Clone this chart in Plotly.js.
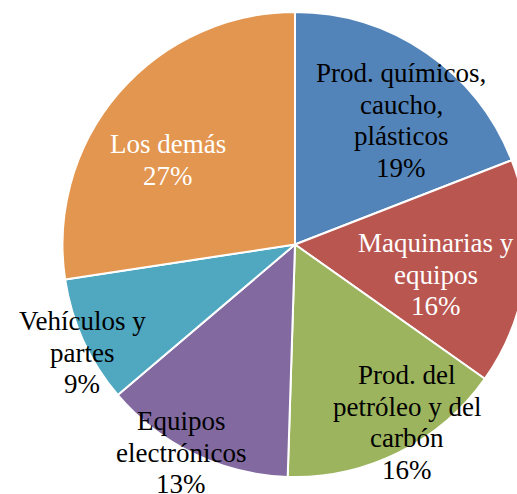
<!DOCTYPE html>
<html>
<head>
<meta charset="utf-8">
<script src="https://cdn.plot.ly/plotly-3.0.1.min.js"></script>
<style>
html, body { margin: 0; padding: 0; overflow: hidden; width: 517px; height: 494px; background: #fff; }
#chart { width: 540px; height: 494px; }
</style>
</head>
<body>
<div id="chart"></div>
<script>
var categories = [
  "Prod. químicos,<br>caucho,<br>plásticos",
  "Maquinarias y<br>equipos",
  "Prod. del<br>petróleo y del<br>carbón",
  "Equipos<br>electrónicos",
  "Vehículos y<br>partes",
  "Los demás"
];
// shares (%) read from slice boundaries; labels show them rounded
var values = [19.1, 15.7, 15.7, 13.3, 8.8, 27.4];
var colors = ["#5384B9", "#BA5650", "#9CB45E", "#826AA0", "#4FA7C0", "#E3964F"];
var textColors = ["#000", "#fff", "#000", "#000", "#000", "#fff"];

var W = 540, H = 494;
var FS = 27, LINE = 31.8;
// label centre x and first-line baseline in pixels (layout only)
var labelPos = [[401, 82], [436, 252], [407, 384], [181, 430], [82, 330], [168, 153]];

var total = values.reduce(function (a, b) { return a + b; }, 0);
var annotations = [];
categories.forEach(function (c, i) {
  var lines = c.split("<br>").concat([Math.round(values[i] / total * 100) + "%"]);
  lines.forEach(function (ln, k) {
    var base = labelPos[i][1] + k * LINE;
    annotations.push({
      text: ln,
      x: labelPos[i][0] / W,
      y: 1 - (base - 0.3375 * FS) / H,
      xref: "paper", yref: "paper",
      xanchor: "center", yanchor: "middle",
      showarrow: false,
      borderpad: 0,
      font: { family: "Liberation Serif, Times New Roman, serif", size: FS, color: textColors[i] }
    });
  });
});

var trace = {
  type: "pie",
  labels: categories,
  values: values,
  sort: false,
  direction: "clockwise",
  rotation: 0,
  textinfo: "none",
  hoverinfo: "none",
  marker: { colors: colors, line: { color: "#ffffff", width: 2 } },
  domain: { x: [62 / W, 528 / W], y: [1 - 477 / H, 1 - 12 / H] },
  showlegend: false
};

Plotly.newPlot("chart", [trace], {
  width: W, height: H,
  margin: { l: 0, r: 0, t: 0, b: 0 },
  paper_bgcolor: "#ffffff",
  showlegend: false,
  annotations: annotations
}, { staticPlot: true });
</script>
</body>
</html>
